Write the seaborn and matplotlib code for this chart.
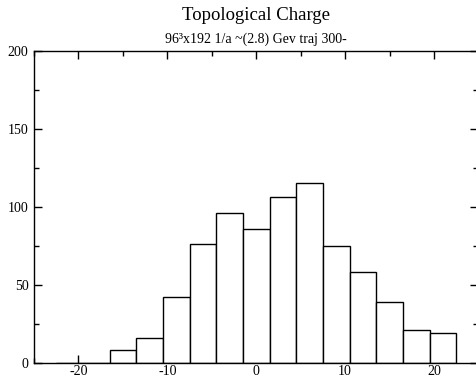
import numpy as np
import pandas as pd
import matplotlib
matplotlib.use("Agg")
import matplotlib.pyplot as plt
import seaborn as sns
from matplotlib.ticker import MultipleLocator

# Data
charge = [-21, -18, -15, -12, -9, -6, -3, 0, 3, 6, 9, 12, 15, 18, 21]
counts = [0, 0, 8, 16, 42, 76, 96, 86, 106, 115, 75, 58, 39, 21, 19]
bin_edges = [-22.5, -19.5, -16.5, -13.5, -10.5, -7.5, -4.5, -1.5, 1.5,
             4.5, 7.5, 10.5, 13.5, 16.5, 19.5, 22.5]
x_ticks = [-20, -10, 0, 10, 20]
y_ticks = [0, 50, 100, 150, 200]
title = "Topological Charge"
subtitle = "96\u00b3x192 1/a ~(2.8) Gev traj 300-"

sns.set_style("ticks")
plt.rcParams["font.family"] = ["Liberation Serif", "DejaVu Serif"]
plt.rcParams["axes.unicode_minus"] = False
plt.rcParams["text.color"] = "black"

df = pd.DataFrame({"Q": charge, "n": counts})

fig = plt.figure(figsize=(4.77, 3.78), dpi=100)
ax = fig.add_axes([34 / 477, (378 - 362.5) / 378, (478.5 - 34) / 477, (362.5 - 51) / 378])

sns.histplot(data=df, x="Q", weights="n", bins=bin_edges, ax=ax,
             color="white", edgecolor="black", linewidth=1.0, alpha=1.0)

ax.set_xlim(-25, 25)
ax.set_ylim(0, 200)
ax.set_xticks(x_ticks)
ax.set_yticks(y_ticks)
ax.xaxis.set_minor_locator(MultipleLocator(5))
ax.yaxis.set_minor_locator(MultipleLocator(25))
ax.tick_params(which="both", direction="in", top=True, right=True,
               labelsize=10, colors="black", labelcolor="black", width=1.0)
ax.tick_params(which="major", length=6)
ax.tick_params(which="minor", length=3.5)
ax.tick_params(axis="x", which="major", pad=2)
ax.tick_params(axis="y", which="major", pad=4)
ax.set_xlabel("")
ax.set_ylabel("")
for s in ax.spines.values():
    s.set_linewidth(1.0)
    s.set_color("black")

fig.text(256 / 477, 1 - 15 / 378, title, ha="center", va="center",
         fontsize=13.5, color="black")
fig.text(256 / 477, 1 - 39 / 378, subtitle, ha="center", va="center",
         fontsize=10, color="black")

fig.savefig("out.png", dpi=100)
